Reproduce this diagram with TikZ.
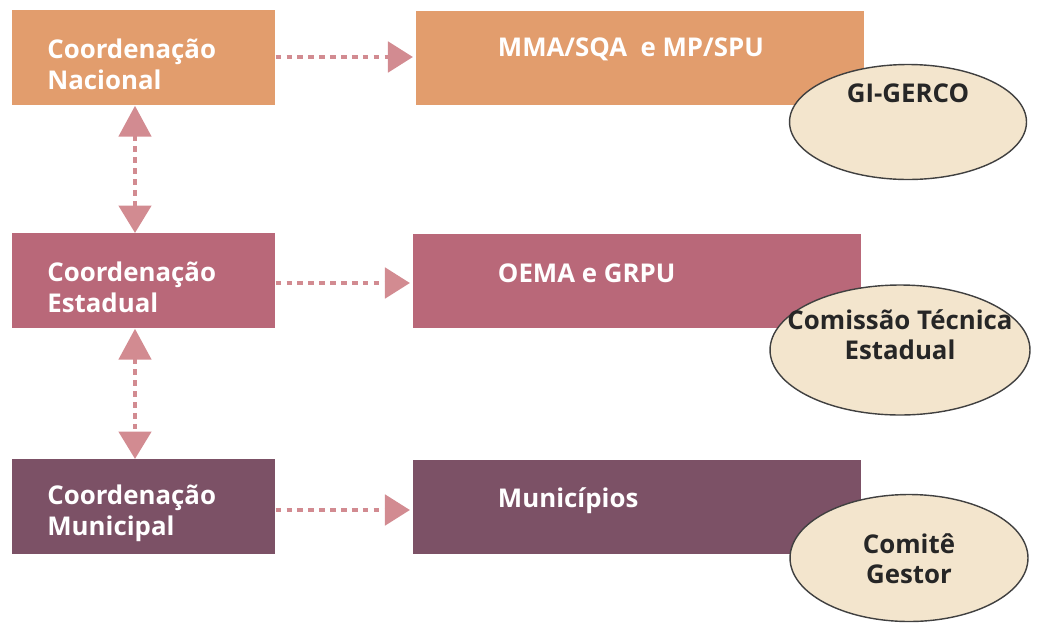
\documentclass[tikz,border=0pt]{standalone}
\usepackage{fontspec}
\setmainfont{Open Sans}
\usetikzlibrary{arrows.meta,positioning,shapes.geometric}

\definecolor{nacional}{HTML}{E29D6D}
\definecolor{estadual}{HTML}{B96879}
\definecolor{municipal}{HTML}{7C5166}
\definecolor{elfill}{HTML}{F3E5CD}
\definecolor{arrowc}{HTML}{D28B91}

\begin{document}
\begin{tikzpicture}[
  x=0.02cm, y=-0.02cm,
  font=\fontsize{14.7}{18}\selectfont\bfseries,
  lvl/.style={anchor=north west, minimum width=5.26cm, minimum height=1.9cm, inner sep=0pt},
  lvltext/.style={anchor=west, inner sep=0pt, text=white, align=left, xshift=0.7cm, yshift=-0.13cm,
                  font=\fontsize{14.7}{18.1}\selectfont\bfseries},
  org/.style={minimum width=8.96cm, minimum height=1.88cm, inner sep=0pt},
  orgtext/.style={anchor=west, inner sep=0pt, text=white},
  comm/.style={ellipse, draw=black!75, line width=0.8pt, fill=elfill, inner sep=0pt},
  commtext/.style={text=black!85, align=center, font=\fontsize{14.7}{17}\selectfont\bfseries},
  dots/.style={draw=arrowc, line width=2.8pt, dash pattern=on 3.2pt off 3pt},
  hlink/.style={dots, -{Triangle[length=0.5cm, width=0.6cm, color=arrowc]}, shorten >=1.5pt},
  vlink/.style={dots, {Triangle[length=0.62cm, width=0.64cm, color=arrowc]}-{Triangle[length=0.55cm, width=0.64cm, color=arrowc]}}
]
\useasboundingbox (0,0) rectangle (1037,626);

% coordenacoes
\node[lvl, fill=nacional, label={[lvltext]west:Coordenação\\Nacional}] (nac) at (12,10) {};
\node[lvl, fill=estadual, label={[lvltext]west:Coordenação\\Estadual}] (est) at (12,233) {};
\node[lvl, fill=municipal, label={[lvltext]west:Coordenação\\Municipal}] (mun) at (12,459) {};

% orgaos
\node[org, fill=nacional, right=2.8cm of nac, label={[orgtext, xshift=1.64cm, yshift=0.18cm]west:MMA/SQA\ \ e MP/SPU}] (mma) {};
\node[org, fill=estadual, right=2.74cm of est, label={[orgtext, xshift=1.7cm, yshift=0.16cm]west:OEMA e GRPU}] (oema) {};
\node[org, fill=municipal, right=2.74cm of mun, label={[orgtext, xshift=1.7cm, yshift=0.12cm]west:Municípios}] (munic) {};

% comissoes
\node[comm, minimum width=4.74cm, minimum height=2.3cm, label={[commtext, yshift=0.58cm]center:GI-GERCO}] (gerco) at (908,122) {};
\node[comm, minimum width=5.2cm, minimum height=2.6cm, label={[commtext, yshift=0.3cm]center:Comissão Técnica\\Estadual}] (cte) at (900,350) {};
\node[comm, minimum width=4.76cm, minimum height=2.54cm, label={[commtext, yshift=-0.02cm]center:Comitê\\Gestor}] (comite) at (909,558) {};

% ligacoes
\draw[hlink] (nac.east |- 0,57) -- (mma.west |- 0,57);
\draw[hlink] (est.east |- 0,283) -- (oema.west |- 0,283);
\draw[hlink] (mun.east |- 0,510) -- (munic.west |- 0,510);
\draw[vlink] (nac.south -| 135,0) -- (est.north -| 135,0);
\draw[vlink] (est.south -| 135,0) -- (mun.north -| 135,0);
\end{tikzpicture}
\end{document}
